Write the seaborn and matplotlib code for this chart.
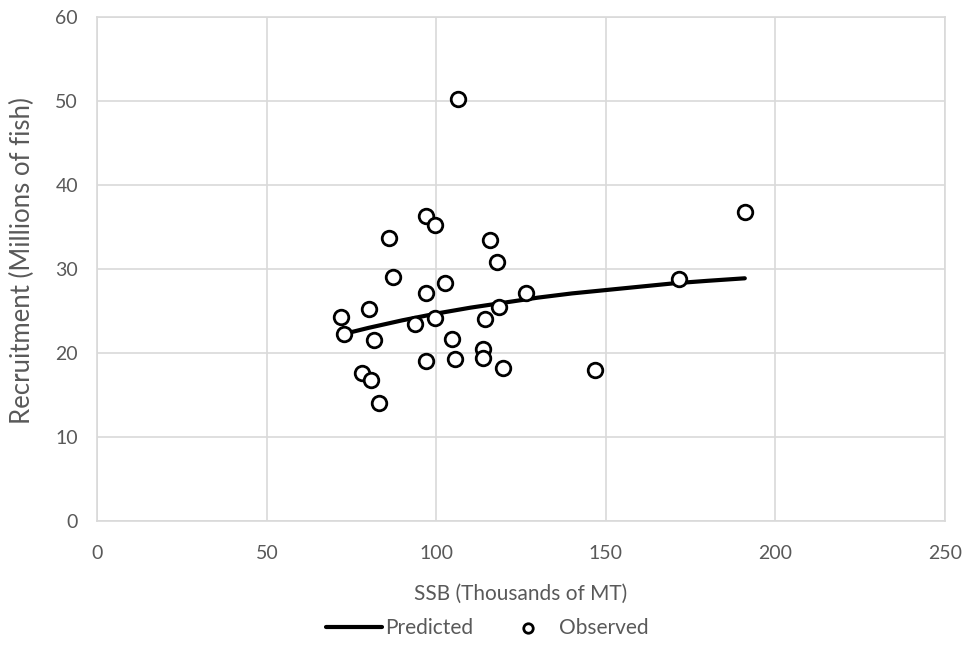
import numpy as np
import pandas as pd
import matplotlib
matplotlib.use("Agg")
import matplotlib.pyplot as plt
import seaborn as sns

# observed stock-recruitment points (SSB thousands MT, recruits millions)
obs_ssb = [106.5, 97.0, 99.6, 86.1, 115.8, 117.8, 87.3, 102.6, 96.9, 126.5,
           171.6, 191.0, 72.0, 80.0, 72.7, 93.8, 99.5, 114.3, 118.5, 81.5,
           104.5, 113.9, 113.9, 96.9, 105.5, 119.6, 146.8, 78.0, 80.8, 83.0]
obs_rec = [50.2, 36.3, 35.3, 33.7, 33.5, 30.9, 29.1, 28.3, 27.1, 27.1,
           28.8, 36.8, 24.3, 25.2, 22.3, 23.5, 24.2, 24.1, 25.5, 21.6,
           21.7, 20.5, 19.4, 19.0, 19.3, 18.2, 18.0, 17.6, 16.8, 14.1]

# predicted curve
pred_ssb = [73, 80, 90, 100, 110, 120, 130, 140, 150, 160, 170, 180, 191]
pred_rec = [22.3, 23.0, 23.9, 24.7, 25.4, 26.0, 26.6, 27.1, 27.5, 27.9, 28.3, 28.6, 28.9]

obs = pd.DataFrame({"SSB": obs_ssb, "Rec": obs_rec})
pred = pd.DataFrame({"SSB": pred_ssb, "Rec": pred_rec})

sns.set_style("white")
plt.rcParams["font.family"] = ["Lato", "DejaVu Sans"]
txt = "#595959"
grid = "#d9d9d9"

fig = plt.figure(figsize=(9.67, 6.46), dpi=100)
ax = fig.add_axes([0.1008, 0.1935, 0.8762, 0.780])

sns.lineplot(data=pred, x="SSB", y="Rec", ax=ax, color="black", linewidth=3,
             label="Predicted", zorder=3)
sns.scatterplot(data=obs, x="SSB", y="Rec", ax=ax, marker="o", s=110,
                facecolor="white", edgecolor="black", linewidth=2,
                label="Observed", zorder=4)

ax.set_xlim(0, 250)
ax.set_ylim(0, 60)
ax.set_xticks(np.arange(0, 251, 50))
ax.set_yticks(np.arange(0, 61, 10))
ax.grid(True, color=grid, linewidth=1.2)
ax.set_axisbelow(True)
for s in ax.spines.values():
    s.set_color(grid)
    s.set_linewidth(1.2)
ax.tick_params(length=0, labelsize=14, colors=txt)
ax.tick_params(axis="x", pad=17)
ax.tick_params(axis="y", pad=14)
ax.set_xlabel("SSB (Thousands of MT)", fontsize=15, color=txt, labelpad=16)
ax.set_ylabel("Recruitment (Millions of fish)", fontsize=18.5, color=txt,
              va="center")
ax.yaxis.set_label_coords(-0.089, 0.516)

ax.legend_.remove()
h, l = ax.get_legend_handles_labels()
fig.legend(h, l, loc="center", bbox_to_anchor=(0.504, 0.028), ncol=2,
           frameon=False, fontsize=15, labelcolor=txt, handlelength=2.7,
           handletextpad=0.12, columnspacing=1.3, markerscale=0.65)

fig.savefig("out.png", dpi=100)
